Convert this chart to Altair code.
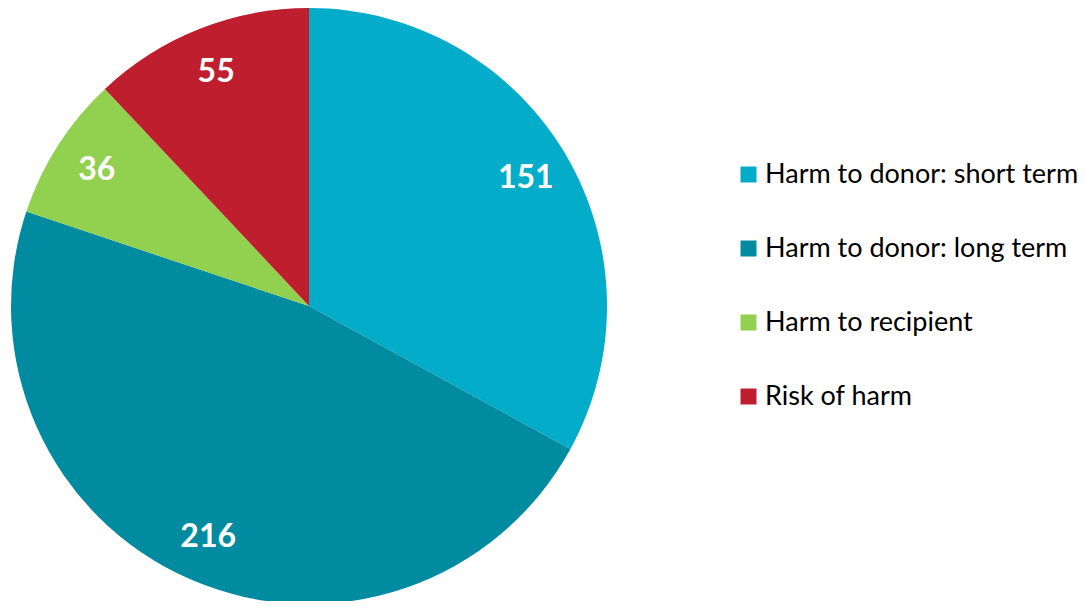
import altair as alt
import pandas as pd

categories = ["Harm to donor: short term", "Harm to donor: long term", "Harm to recipient", "Risk of harm"]
values = [151, 216, 36, 55]
order_idx = [0, 1, 2, 3]
colors = ["#03ACC8", "#018BA0", "#92D050", "#BE1E2D"]

df = pd.DataFrame({"category": categories, "value": values, "idx": order_idx})

base = alt.Chart(df).encode(
    theta=alt.Theta("value:Q", stack=True),
    order=alt.Order("idx:Q", sort="ascending"),
)

pie = base.mark_arc(outerRadius=298, stroke=None).encode(
    x=alt.value(301),
    y=alt.value(298),
    color=alt.Color(
        "category:N",
        sort=categories,
        scale=alt.Scale(domain=categories, range=colors),
        legend=alt.Legend(
            title=None,
            orient="none",
            legendX=727,
            legendY=153,
            symbolType="square",
            symbolSize=256,
            symbolStrokeWidth=0,
            labelFont="Lato",
            labelFontSize=27,
            labelColor="#000000",
            rowPadding=46,
            labelOffset=3,
            padding=0,
            labelLimit=400,
        ),
    ),
)

labels = base.mark_text(
    radius=252,
    font="Lato",
    fontSize=32,
    fontWeight="bold",
    color="white",
    align="center",
    baseline="middle",
).encode(
    x=alt.value(301),
    y=alt.value(298),
    text=alt.Text("value:Q"),
)

chart = alt.layer(pie, labels).properties(
    width=1070,
    height=593,
    autosize=alt.AutoSizeParams(type="none"),
    padding=0,
).configure_view(stroke=None)

chart.save("out.html", embed_options={"renderer": "svg", "actions": False})
